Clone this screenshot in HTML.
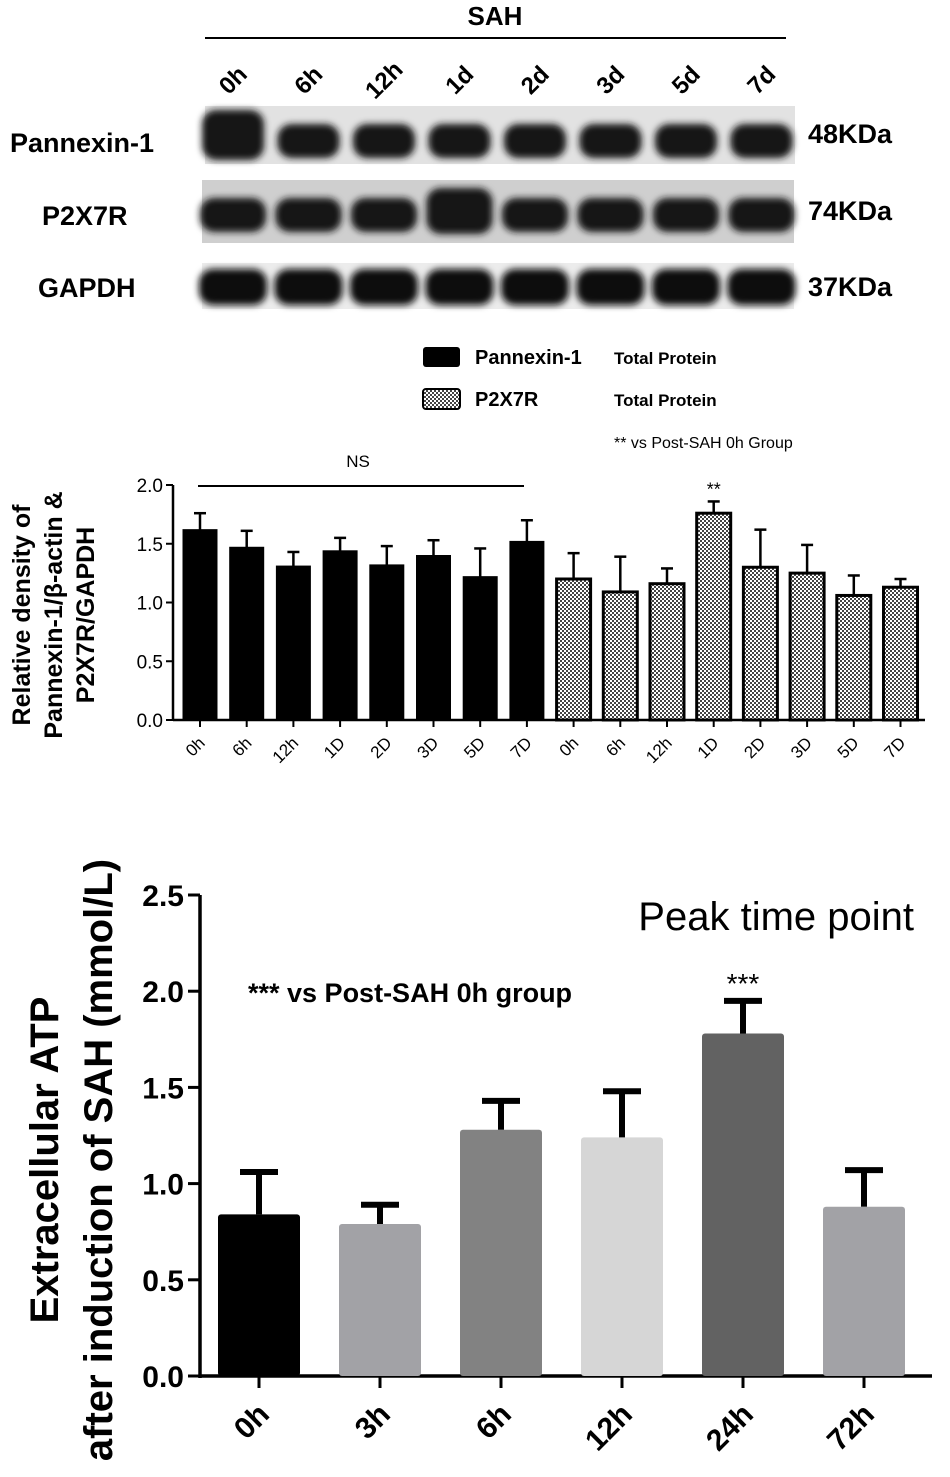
<!DOCTYPE html>
<html><head><meta charset="utf-8"><style>
body{margin:0;background:#fff}
svg{display:block;font-family:"Liberation Sans",Arial,sans-serif}
</style></head><body>
<svg width="950" height="1477" viewBox="0 0 950 1477">
<defs>
<filter id="blur" x="-30%" y="-60%" width="160%" height="220%"><feGaussianBlur stdDeviation="3.5"/></filter>
<pattern id="check" width="4" height="4" patternUnits="userSpaceOnUse"><rect width="4" height="4" fill="#fff"/><rect width="2" height="2" fill="#444"/><rect x="2" y="2" width="2" height="2" fill="#444"/></pattern>
</defs>
<g id="blot">
<text x="495" y="25" font-size="26" font-weight="bold" text-anchor="middle">SAH</text>
<line x1="205" y1="38" x2="786" y2="38" stroke="#000" stroke-width="2"/>
<text x="10" y="152" font-size="27" font-weight="bold">Pannexin-1</text>
<text x="42" y="225" font-size="27" font-weight="bold">P2X7R</text>
<text x="38" y="297" font-size="27" font-weight="bold">GAPDH</text>
<text x="808" y="143" font-size="27" font-weight="bold">48KDa</text>
<text x="808" y="220" font-size="27" font-weight="bold">74KDa</text>
<text x="808" y="296" font-size="27" font-weight="bold">37KDa</text>
<rect x="205" y="106" width="590" height="58" fill="#e2e2e2"/>
<rect x="202" y="180" width="592" height="63" fill="#cfcfcf"/>
<rect x="202" y="263" width="592" height="46" fill="#ececec"/>
</g>
<g id="mid"></g>
<g id="bot"></g>
</svg>
<script>
const NS="http://www.w3.org/2000/svg";
function mk(p,t,a,txt){const e=document.createElementNS(NS,t);for(const k in a)e.setAttribute(k,a[k]);if(txt!==undefined)e.textContent=txt;p.appendChild(e);return e;}
// blot lanes
const laneLabels=["0h","6h","12h","1d","2d","3d","5d","7d"];
const blot=document.getElementById('blot');
const laneX=i=>233+i*75.5;
laneLabels.forEach((l,i)=>{
 const t=mk(blot,'text',{x:laneX(i),y:88,'font-size':24,'font-weight':'bold','text-anchor':'middle',transform:`rotate(-45 ${laneX(i)} 80)`},l);
 
 
 const g=mk(blot,'g',{filter:'url(#blur)'});
 
 
 mk(g,'rect',{x:laneX(i)-31,y:i==0?110:124,width:62,height:i==0?50:34,rx:14,fill:'#141414'});
 mk(g,'rect',{x:laneX(i)-33,y:i==3?188:198,width:66,height:i==3?46:34,rx:14,fill:'#141414'});
 mk(g,'rect',{x:laneX(i)-34,y:269,width:68,height:36,rx:14,fill:'#0a0a0a'});
});
// middle chart
const midCats=["0h","6h","12h","1D","2D","3D","5D","7D","0h","6h","12h","1D","2D","3D","5D","7D"];
const panxVals=[1.62,1.47,1.31,1.44,1.32,1.40,1.22,1.52];
const panxErr=[0.14,0.14,0.12,0.11,0.16,0.13,0.24,0.18];
const p2xVals=[1.20,1.09,1.16,1.76,1.30,1.25,1.06,1.13];
const p2xErr=[0.22,0.30,0.13,0.10,0.32,0.24,0.17,0.07];
const midTicks=[0,0.5,1.0,1.5,2.0];
const mid=document.getElementById('mid');
const my=v=>720-v*117.5, mx=i=>200+i*46.7;
// legend
let r=mk(mid,'rect',{x:423,y:347,width:37,height:20,fill:'#000',rx:3});

r=mk(mid,'rect',{x:423,y:389,width:37,height:20,fill:'url(#check)',stroke:'#000','stroke-width':2,rx:3});

[[475,364,'Pannexin-1',20,'bold'],[614,364,'Total Protein',17,'bold'],[475,406,'P2X7R',20,'bold'],[614,406,'Total Protein',17,'bold'],[614,448,'** vs Post-SAH 0h Group',16,'normal']].forEach((d,k)=>{
 const t=mk(mid,'text',{x:d[0],y:d[1],'font-size':d[3],'font-weight':d[4]},d[2]);
 
});
midTicks.forEach(v=>{
 mk(mid,'line',{x1:166,x2:173,y1:my(v),y2:my(v),stroke:'#000','stroke-width':2});
 const t=mk(mid,'text',{x:163,y:my(v)+7,'font-size':19,'text-anchor':'end'},v.toFixed(1));
 
});
mk(mid,'line',{x1:173,x2:173,y1:my(2),y2:my(0)+1,stroke:'#000','stroke-width':2.5});
mk(mid,'line',{x1:173,x2:925,y1:my(0),y2:my(0),stroke:'#000','stroke-width':2.5});
midCats.forEach((c,i)=>{
 const grp=i<8?0:1, j=i%8;
 const v=grp?p2xVals[j]:panxVals[j], e=grp?p2xErr[j]:panxErr[j];
 const b=mk(mid,'rect',{x:mx(i)-17,y:my(v),width:34,height:my(0)-my(v),fill:grp?'url(#check)':'#000',stroke:'#000','stroke-width':grp?3:1});
 
 mk(mid,'line',{x1:mx(i),x2:mx(i),y1:my(v),y2:my(v+e),stroke:'#000','stroke-width':2.5});
 mk(mid,'line',{x1:mx(i)-6,x2:mx(i)+6,y1:my(v+e),y2:my(v+e),stroke:'#000','stroke-width':2.5});
 mk(mid,'line',{x1:mx(i),x2:mx(i),y1:my(0),y2:my(0)+7,stroke:'#000','stroke-width':2});
 const t=mk(mid,'text',{x:mx(i)+6,y:my(0)+24,'font-size':17,'text-anchor':'end',transform:`rotate(-45 ${mx(i)+6} ${my(0)+24})`},c);
 
});
let ln=mk(mid,'line',{x1:198,x2:524,y1:486,y2:486,stroke:'#000','stroke-width':2});

let t=mk(mid,'text',{x:358,y:467,'font-size':17,'text-anchor':'middle'},'NS');

t=mk(mid,'text',{x:mx(11),y:my(1.86)-6,'font-size':18,'text-anchor':'middle'},'**');

t=mk(mid,'text',{transform:'translate(30 615) rotate(-90)','font-size':25,'font-weight':'bold','text-anchor':'middle'},'Relative density of');

t=mk(mid,'text',{transform:'translate(62 615) rotate(-90)','font-size':25,'font-weight':'bold','text-anchor':'middle'},'Pannexin-1/β-actin &');

t=mk(mid,'text',{transform:'translate(94 615) rotate(-90)','font-size':25,'font-weight':'bold','text-anchor':'middle'},'P2X7R/GAPDH');

// bottom chart
const atpCats=["0h","3h","6h","12h","24h","72h"];
const atpVals=[0.84,0.79,1.28,1.24,1.78,0.88];
const atpErr=[0.22,0.10,0.15,0.24,0.17,0.19];
const atpColors=["#000","#a2a2a6","#828282","#d6d6d6","#626262","#a2a2a6"];
const atpTicks=[0,0.5,1.0,1.5,2.0,2.5];
const bot=document.getElementById('bot');
const by=v=>1376-v*192.4, bx=i=>259+i*121;
atpTicks.forEach(v=>{
 mk(bot,'line',{x1:188,x2:200,y1:by(v),y2:by(v),stroke:'#000','stroke-width':3});
 const tt=mk(bot,'text',{x:184,y:by(v)+11,'font-size':30,'font-weight':'bold','text-anchor':'end'},v.toFixed(1));
 
});
mk(bot,'line',{x1:200,x2:932,y1:by(0),y2:by(0),stroke:'#000','stroke-width':3.5});
mk(bot,'line',{x1:200,x2:200,y1:by(2.5),y2:by(0)+2,stroke:'#000','stroke-width':3.5});
atpCats.forEach((c,i)=>{
 const v=atpVals[i],e=atpErr[i];
 const b=mk(bot,'rect',{x:bx(i)-41,y:by(v),width:82,height:by(0)-by(v),fill:atpColors[i],rx:3});
 
 mk(bot,'line',{x1:bx(i),x2:bx(i),y1:by(v),y2:by(v+e),stroke:'#000','stroke-width':6});
 mk(bot,'line',{x1:bx(i)-19,x2:bx(i)+19,y1:by(v+e),y2:by(v+e),stroke:'#000','stroke-width':6});
 mk(bot,'line',{x1:bx(i),x2:bx(i),y1:by(0),y2:by(0)+12,stroke:'#000','stroke-width':3});
 const tt=mk(bot,'text',{x:bx(i)+12,y:by(0)+40,'font-size':30,'font-weight':'bold','text-anchor':'end',transform:`rotate(-45 ${bx(i)+12} ${by(0)+40})`},c);
 
});
t=mk(bot,'text',{x:bx(4),y:by(1.95)-8,'font-size':28,'text-anchor':'middle'},'***');

t=mk(bot,'text',{x:248,y:1002,'font-size':27,'font-weight':'bold'},'*** vs Post-SAH 0h group');

t=mk(bot,'text',{x:914,y:930,'font-size':40,'text-anchor':'end'},'Peak time point');

t=mk(bot,'text',{transform:'translate(58 1160) rotate(-90)','font-size':40,'font-weight':'bold','text-anchor':'middle'},'Extracellular ATP');

t=mk(bot,'text',{transform:'translate(112 1160) rotate(-90)','font-size':40,'font-weight':'bold','text-anchor':'middle'},'after induction of SAH (mmol/L)');

</script>
</body></html>
